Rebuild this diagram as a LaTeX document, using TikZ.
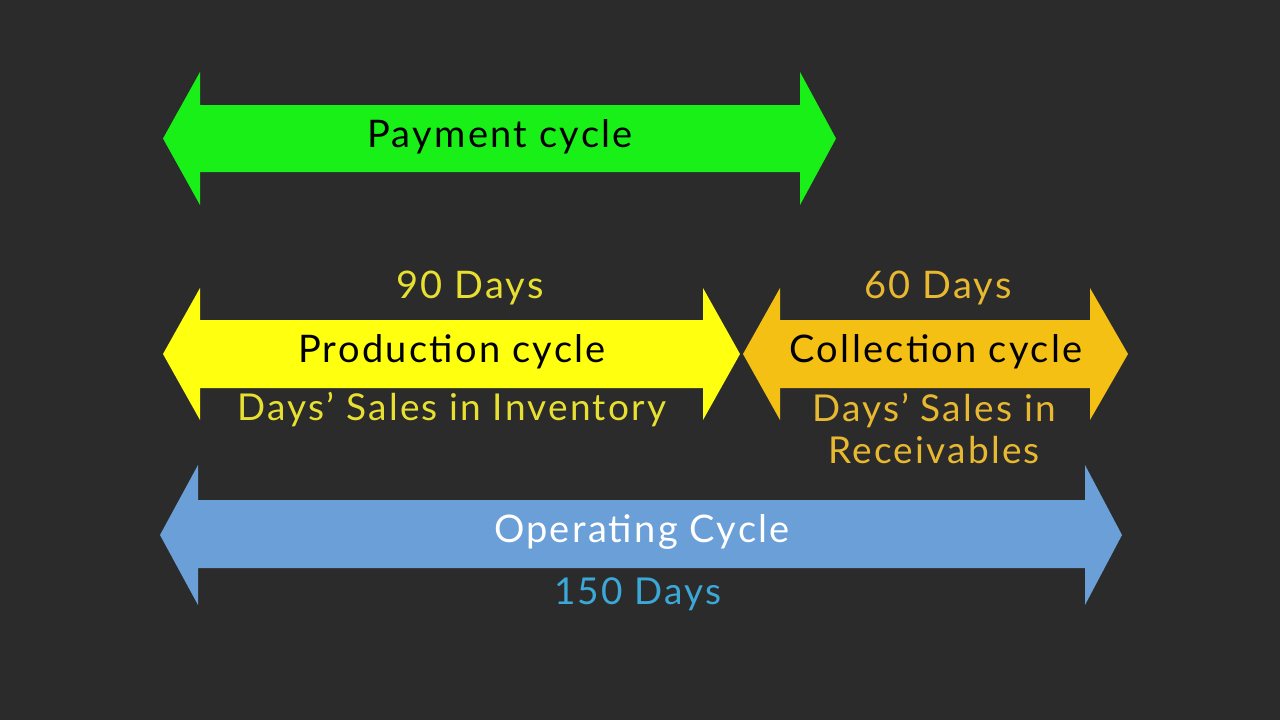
\documentclass[tikz,border=0pt]{standalone}
\usepackage{fontspec}
\setmainfont{Lato}[LetterSpace=6]
\definecolor{bg}{HTML}{2B2B2B}
\definecolor{cgreen}{HTML}{18F018}
\definecolor{cyel}{HTML}{FFFF10}
\definecolor{corange}{HTML}{F5C014}
\definecolor{cblue}{HTML}{6A9FD8}
\definecolor{tyel}{HTML}{E8E030}
\definecolor{torange}{HTML}{E8B830}
\definecolor{tblue}{HTML}{3BA8D8}
\tikzset{big/.style={font=\fontsize{38}{42}\selectfont},
 small/.style={font=\fontsize{37}{42}\selectfont}}
\newcommand{\dblarrow}[9]{% color, lefttip, leftbase, rightbase, righttip, headtop, shafttop, shaftbot, headbot
 \fill[#1] (#2,{(#6+#9)/2}) -- (#3,#6) -- (#3,#7) -- (#4,#7) -- (#4,#6) -- (#5,{(#6+#9)/2}) -- (#4,#9) -- (#4,#8) -- (#3,#8) -- (#3,#9) -- cycle;}
\begin{document}
\begin{tikzpicture}[x=1pt,y=-1pt]
\fill[bg] (0,0) rectangle (1280,720);
\useasboundingbox (0,0) rectangle (1280,720);
\dblarrow{cgreen}{163}{200}{800}{836}{72}{105}{172}{205}
\dblarrow{cyel}{163}{200}{703}{740}{288}{320}{388}{420}
\dblarrow{corange}{743}{780}{1090}{1128}{288}{320}{388}{420}
\dblarrow{cblue}{160}{198}{1085}{1122}{465}{500}{568}{605}
\node[big,black] (pay) at (500,137) {Payment cycle};
\node[big,tyel] (d90) at (470,288) {90 Days};
\node[big,black] (prod) at (452,352) {Production cycle};
\node[small,tyel] (dsi) at (452,410) {Days{\char"27} Sales in Inventory};
\node[big,torange] (d60) at (938,288) {60 Days};
\node[big,black] (coll) at (936,352) {Collection cycle};
\node[small,torange,align=center] (dsr) at (934,428) {Days{\char"27} Sales in\\Receivables};
\node[big,white] (op) at (642,532) {Operating Cycle};
\node[small,tblue] (d150) at (638,594) {150 Days};
\end{tikzpicture}
\end{document}
